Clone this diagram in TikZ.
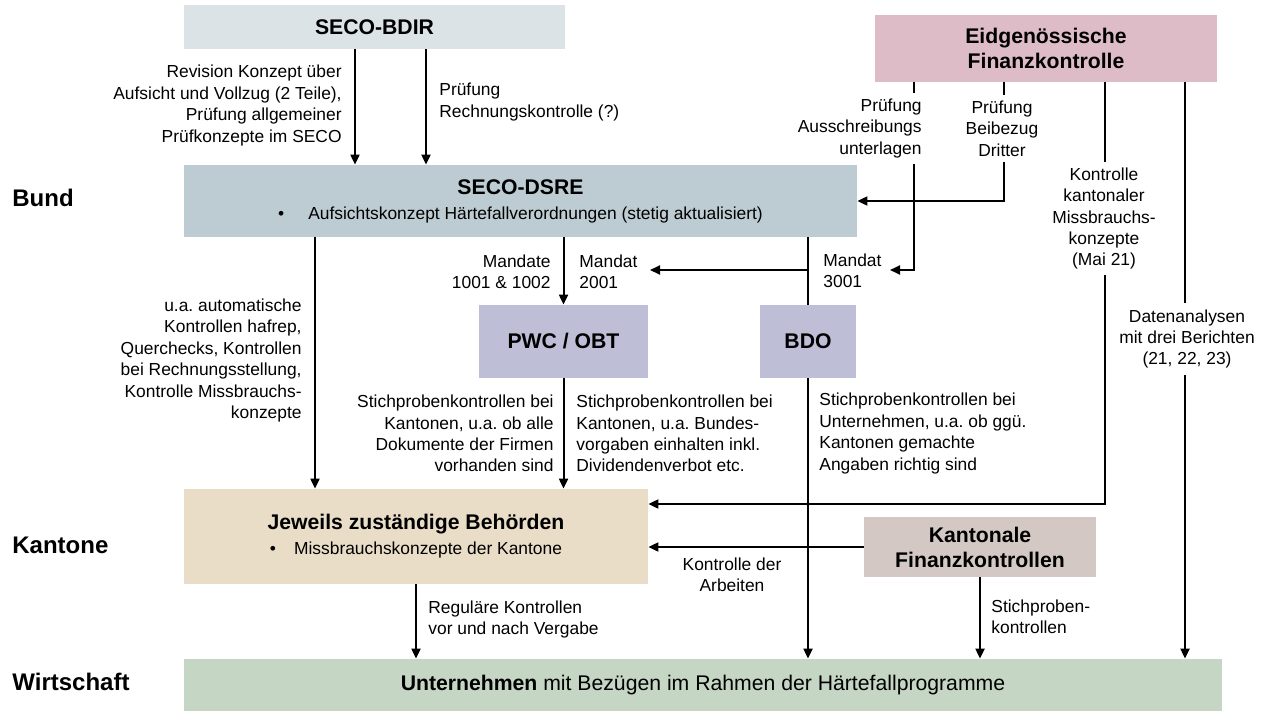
\documentclass[tikz,border=0pt]{standalone}
\usepackage{fontspec}
\setmainfont{Liberation Sans}
\usetikzlibrary{arrows.meta}
\definecolor{bdirC}{HTML}{DCE3E6}
\definecolor{dsreC}{HTML}{BDCCD3}
\definecolor{mandC}{HTML}{BEBED6}
\definecolor{efkC}{HTML}{DDBCC7}
\definecolor{behC}{HTML}{E9DDC7}
\definecolor{kfkC}{HTML}{D3C8C3}
\definecolor{untC}{HTML}{C5D6C4}
\newcommand{\boxfont}{\fontsize{10.6}{12.5}\selectfont}
\newcommand{\lblfont}{\fontsize{8.7}{10.7}\selectfont}
\frenchspacing
\begin{document}
\begin{tikzpicture}[x=0.5pt,y=-0.5pt]
	\tikzstyle{every node}+=[inner sep=0pt]
	\tikzstyle{box}=[align=center,font=\boxfont]
	\tikzstyle{lbl}=[font=\lblfont]
	\tikzstyle{wlbl}=[font=\lblfont,align=center,fill=white,inner ysep=3pt]
	\tikzstyle{rowlbl}=[font=\fontsize{12}{14}\selectfont\bfseries,anchor=west]
	\tikzstyle{ln}=[line width=1pt]
	\tikzstyle{arr}=[line width=1pt,-{Triangle[length=5pt,width=4.5pt]}]
	\useasboundingbox (0,0) rectangle (1272,717);
	\node [rowlbl] (bund) at (12,198) {Bund};
	\node [rowlbl] (kantone) at (12,545) {Kantone};
	\node [rowlbl] (wirtschaft) at (12,682) {Wirtschaft};
	\node [box,fill=bdirC,minimum width=190.5pt,minimum height=22pt] (bdir) at (374.5,27) {\textbf{SECO-BDIR}};
	\node [box,fill=efkC,minimum width=171pt,minimum height=33.5pt] (efk) at (1046,48.5) {\textbf{Eidgenössische}\\\textbf{Finanzkontrolle}};
	\node [box,fill=dsreC,minimum width=336.5pt,minimum height=36pt] (dsre) at (520.5,201) {\textbf{SECO-DSRE}\\{\lblfont\textbullet\hspace{12pt}Aufsichtskonzept Härtefallverordnungen (stetig aktualisiert)}};
	\node [box,fill=mandC,minimum width=84.5pt,minimum height=36.5pt] (pwc) at (563.5,341.5) {\textbf{PWC / OBT}};
	\node [box,fill=mandC,minimum width=48pt,minimum height=36.5pt] (bdo) at (808,341.5) {\textbf{BDO}};
	\node [box,fill=behC,minimum width=232pt,minimum height=47.5pt] (beh) at (416,536.5) {\textbf{Jeweils zuständige Behörden}\\{\lblfont\textbullet\hspace{9pt}Missbrauchskonzepte der Kantone}};
	\node [box,fill=kfkC,minimum width=116pt,minimum height=30pt] (kfk) at (980,547) {\textbf{Kantonale}\\\textbf{Finanzkontrollen}};
	\node [box,fill=untC,minimum width=519pt,minimum height=26pt] (unt) at (703,685) {\textbf{Unternehmen} mit Bezügen im Rahmen der Härtefallprogramme};
	\coordinate (m2001) at (650,270);
	\coordinate (m3001) at (890,270);
	\draw [arr] (355,0 |- bdir.south) -- (355,0 |- dsre.north);
	\draw [arr] (426,0 |- bdir.south) -- (426,0 |- dsre.north);
	\draw [arr] (315,0 |- dsre.south) -- (315,0 |- beh.north);
	\draw [arr] (pwc.north |- dsre.south) -- (pwc.north);
	\draw [ln] (bdo.north |- dsre.south) -- (bdo.north);
	\draw [arr] (bdo.north |- m2001) -- (m2001);
	\draw [arr] (914,0 |- efk.south) |- (m3001);
	\draw [arr] (1004,0 |- efk.south) |- (dsre.east);
	\draw [arr] (1105,0 |- efk.south) |- (beh.east |- 0,504);
	\draw [arr] (1185,0 |- efk.south) -- (1185,0 |- unt.north);
	\draw [arr] (pwc.south) -- (pwc.south |- beh.north);
	\draw [arr] (bdo.south) -- (bdo.south |- unt.north);
	\draw [arr] (kfk.west) -- (kfk.west -| beh.east);
	\draw [arr] (kfk.south) -- (kfk.south |- unt.north);
	\draw [arr] (beh.south) -- (beh.south |- unt.north);
	\node [lbl,anchor=east,align=right] (lrev) at (342,105.5) {Revision Konzept über\\Aufsicht und Vollzug (2 Teile),\\Prüfung allgemeiner\\Prüfkonzepte im SECO};
	\node [lbl,anchor=west,align=left] (lpruef) at (439,102) {Prüfung\\Rechnungskontrolle (?)};
	\node [lbl,anchor=east,align=right] (lauto) at (302,360.5) {u.a. automatische\\Kontrollen hafrep,\\Querchecks, Kontrollen\\bei Rechnungsstellung,\\Kontrolle Missbrauchs-\\konzepte};
	\node [lbl,anchor=east,align=right] (lmand) at (551,271.5) {Mandate\\1001 \& 1002};
	\node [lbl,anchor=west,align=left] (l2001) at (579,271.5) {Mandat\\2001};
	\node [lbl,anchor=west,align=left] (l3001) at (823,271) {Mandat\\3001};
	\node [wlbl,align=right,anchor=east] (laus) at (922,128.5) {Prüfung\\Ausschreibungs\\unterlagen};
	\node [wlbl] (lbei) at (1002,128.5) {Prüfung\\Beibezug\\Dritter};
	\node [wlbl] (lkkant) at (1104,218.5) {Kontrolle\\kantonaler\\Missbrauchs-\\konzepte\\(Mai 21)};
	\node [wlbl] (ldaten) at (1187,339) {Datenanalysen\\mit drei Berichten\\(21, 22, 23)};
	\node [lbl,anchor=east,align=right] (lstichk) at (554,433.5) {Stichprobenkontrollen bei\\Kantonen, u.a. ob alle\\Dokumente der Firmen\\vorhanden sind};
	\node [lbl,anchor=west,align=left] (lstichb) at (576,433.5) {Stichprobenkontrollen bei\\Kantonen, u.a. Bundes-\\vorgaben einhalten inkl.\\Dividendenverbot etc.};
	\node [lbl,anchor=west,align=left] (lstichu) at (819,433.5) {Stichprobenkontrollen bei\\Unternehmen, u.a. ob ggü.\\Kantonen gemachte\\Angaben richtig sind};
	\node [lbl,align=center] (lkda) at (732,574.5) {Kontrolle der\\Arbeiten};
	\node [lbl,anchor=west,align=left] (lstichp) at (991,617) {Stichproben-\\kontrollen};
	\node [lbl,anchor=west,align=left] (lreg) at (428,619.5) {Reguläre Kontrollen\\vor und nach Vergabe};
\end{tikzpicture}
\end{document}
